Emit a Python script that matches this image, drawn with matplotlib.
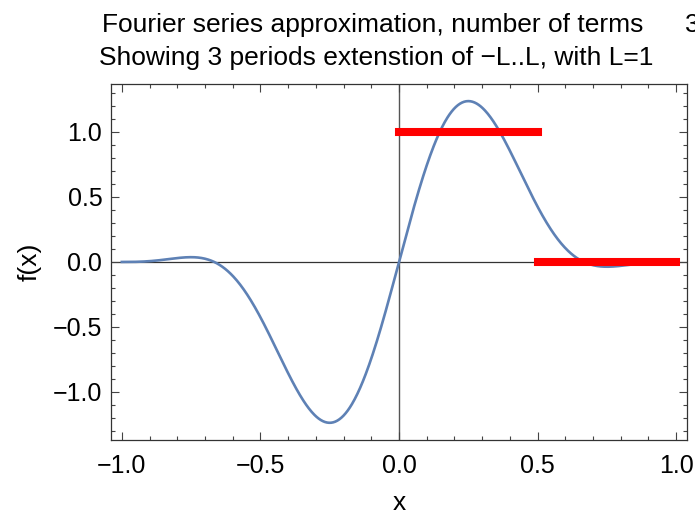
import numpy as np
import matplotlib
matplotlib.use("Agg")
import matplotlib.pyplot as plt
from matplotlib.ticker import MultipleLocator, FuncFormatter

# Fourier sine coefficients of the approximation (3 terms, L=1)
n_terms = [1, 2, 3]
b_n = [0.637, 0.637, 0.212]
L = 1.0

# the original piecewise function on 0..L (red segments)
piece_x = [[0.0, 0.5], [0.5, 1.0]]
piece_y = [1.0, 0.0]

title_1 = "Fourier series approximation, number of terms"
title_n = "3"
title_2 = "Showing 3 periods extenstion of \u2212L..L, with L=1"

plt.rcParams['font.family'] = ['Liberation Sans', 'DejaVu Sans']
plt.rcParams['axes.unicode_minus'] = True

fig = plt.figure(figsize=(6.95, 5.14), dpi=100)
ax = fig.add_axes([110.7 / 695, 1 - 440.3 / 514, (687.3 - 110.7) / 695, (440.3 - 84) / 514])

# curve from the coefficients
x = np.linspace(-L, L, 801)
y = np.zeros_like(x)
for n, b in zip(n_terms, b_n):
    y += b * np.sin(n * np.pi * x / L)

# axes through the origin
ax.axhline(0, color='#333333', lw=0.9, zorder=1)
ax.axvline(0, color='#555555', lw=1.0, zorder=1)

ax.plot(x, y, color='#5E81B5', lw=1.9, zorder=2)
for px, py in zip(piece_x, piece_y):
    ax.plot(px, [py, py], color='red', lw=5.8, solid_capstyle='projecting', zorder=3)

ax.set_xlim(-1.04, 1.04)
ax.set_ylim(-1.372, 1.369)

ax.xaxis.set_major_locator(MultipleLocator(0.5))
ax.xaxis.set_minor_locator(MultipleLocator(0.1))
ax.yaxis.set_major_locator(MultipleLocator(0.5))
ax.yaxis.set_minor_locator(MultipleLocator(0.1))
fmt = FuncFormatter(lambda v, p: f"{v:.1f}".replace('-', '\u2212'))
ax.xaxis.set_major_formatter(fmt)
ax.yaxis.set_major_formatter(fmt)

ax.tick_params(which='both', direction='in', top=True, right=True,
               color='#444444', width=0.8, labelsize=18)
ax.tick_params(which='major', length=5.5)
ax.tick_params(axis='x', which='major', pad=10)
ax.tick_params(axis='y', which='major', pad=6)
ax.tick_params(which='minor', length=3)
for s in ax.spines.values():
    s.set_color('#333333')
    s.set_linewidth(0.9)

ax.set_xlabel('x', fontsize=19, labelpad=9)
ax.set_ylabel('f(x)', fontsize=19, labelpad=8)

fig.text(102 / 695, 1 - 32.3 / 514, title_1, fontsize=19, ha='left', va='baseline')
fig.text(685 / 695, 1 - 32.3 / 514, title_n, fontsize=19, ha='left', va='baseline')
fig.text(99 / 695, 1 - 64.5 / 514, title_2, fontsize=19, ha='left', va='baseline')

fig.savefig('out.png', dpi=100)
